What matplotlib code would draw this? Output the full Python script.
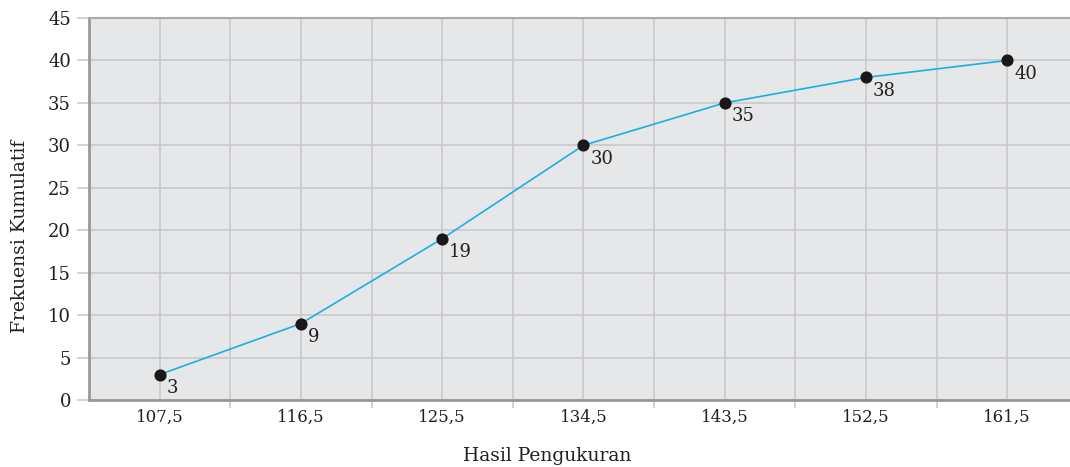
import matplotlib.pyplot as plt

# data
x_vals = [107.5, 116.5, 125.5, 134.5, 143.5, 152.5, 161.5]
y_vals = [3, 9, 19, 30, 35, 38, 40]
x_labels = ["107,5", "116,5", "125,5", "134,5", "143,5", "152,5", "161,5"]
y_ticks = [0, 5, 10, 15, 20, 25, 30, 35, 40, 45]

plt.rcParams['font.family'] = ['DejaVu Serif']

fig = plt.figure(figsize=(10.7, 4.67), dpi=100)
ax = fig.add_axes([89/1070, 67/467, 1 - 89/1070, 382/467])
ax.set_facecolor('#e6e7e9')

# grid: major at labels, minor halfway
minor_x = [(x_vals[i] + x_vals[i+1]) / 2 for i in range(len(x_vals)-1)]
ax.set_xticks(x_vals)
ax.set_xticklabels(x_labels)
ax.set_xticks(minor_x, minor=True)
ax.set_yticks(y_ticks)
ax.grid(True, which='both', color='#c9c9cb', linewidth=1.2)
ax.set_axisbelow(True)

ax.plot(x_vals, y_vals, color='#1aaee8', linewidth=1.2, zorder=3)
ax.scatter(x_vals, y_vals, s=60, color='#1a1718', zorder=4)
for x, y in zip(x_vals, y_vals):
    ax.annotate(str(y), (x, y), xytext=(5, -3), textcoords='offset points',
                ha='left', va='top', fontsize=13, color='#231f20')

ax.set_xlim(103, 165.5)
ax.set_ylim(0, 45)

for s in ['left', 'bottom']:
    ax.spines[s].set_color('#999999')
    ax.spines[s].set_linewidth(2)
ax.spines['top'].set_color('#aaaaaa')
ax.spines['top'].set_linewidth(1.5)
ax.spines['right'].set_visible(False)

ax.tick_params(axis='x', which='major', length=0, pad=6, labelsize=12, labelcolor='#231f20')
ax.tick_params(axis='x', which='minor', length=6, color='#cccccc', width=1.2)
ax.tick_params(axis='y', length=9, color='#cccccc', width=1.2, pad=4, labelsize=13, labelcolor='#231f20')

fig.text(547/1070, 1 - 456/467, "Hasil Pengukuran", ha='center', va='center', fontsize=13.5, color='#231f20')
fig.text(20/1070, 1 - 236/467, "Frekuensi Kumulatif", ha='center', va='center', rotation=90, fontsize=13.5, color='#231f20')

fig.savefig('out.png', dpi=100)
